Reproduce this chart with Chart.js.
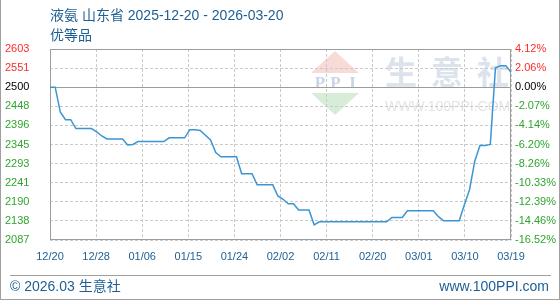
<!DOCTYPE html>
<html>
<head>
<meta charset="utf-8">
<script src="https://cdn.jsdelivr.net/npm/chart.js@4.4.1/dist/chart.umd.min.js"></script>
<style>
  html, body { margin:0; padding:0; background:#fff; }
  #box { position:relative; width:560px; height:300px; overflow:hidden; font-family:"Liberation Sans","Noto Sans CJK SC",sans-serif; color:#1d5f94; }
  #chart { position:absolute; left:0; top:0; }
  .txt { position:absolute; font-size:14px; line-height:20px; white-space:nowrap; }
  .edge { position:absolute; background:#a0a0a0; }
</style>
</head>
<body>
<div id="box">
  <canvas id="chart" width="560" height="300"></canvas>
  <div class="txt" style="left:50px;top:5px">液氨 山东省 2025-12-20 - 2026-03-20</div>
  <div class="txt" style="left:50px;top:25px">优等品</div>
  <div class="edge" style="left:10px;top:275px;width:541px;height:1px"></div>
  <div class="txt" style="left:10px;top:276px">© 2026.03 生意社</div>
  <div class="txt" style="right:11px;top:276px">www.100PPI.com</div>
  <div class="edge" style="left:0;top:0;width:1px;height:300px"></div>
  <div class="edge" style="right:0;top:0;width:1px;height:300px"></div>
  <div class="edge" style="left:0;bottom:0;width:560px;height:1px"></div>
</div>
<script>
// daily price, 2025-12-20 .. 2026-03-19 (one value per day)
const prices = [
  2500, 2500, 2432, 2412, 2412, 2388, 2388, 2388, 2388, 2379,
  2368, 2360, 2360, 2360, 2360, 2344, 2345, 2353, 2353, 2353,
  2353, 2353, 2353, 2363, 2363, 2363, 2363, 2385, 2385, 2383,
  2370, 2357, 2323, 2312, 2312, 2312, 2312, 2266, 2266, 2266,
  2236, 2236, 2236, 2236, 2206, 2197, 2185, 2185, 2168, 2168,
  2168, 2128, 2136, 2136, 2136, 2136, 2136, 2136, 2136, 2136,
  2136, 2136, 2136, 2136, 2136, 2136, 2148, 2148, 2148, 2166,
  2166, 2166, 2166, 2166, 2166, 2150, 2139, 2139, 2139, 2139,
  2182, 2223, 2300, 2342, 2342, 2345, 2552, 2558, 2558, 2540
];
const basePrice = 2500;
const xLabels = ['12/20','12/28','01/06','01/15','01/24','02/02','02/11','02/20','03/01','03/10','03/19'];
const priceLabels = ['2087','2138','2190','2241','2293','2345','2396','2448','2500','2551','2603'];
const pctLabels = ['-16.52%','-14.46%','-12.39%','-10.33%','-8.26%','-6.20%','-4.14%','-2.07%','0.00%','2.06%','4.12%'];
const yMin = 2087, yMax = 2603;

const tickFont = {family:'Liberation Sans', size:11};
function labelColor(i){
  const p = pctLabels[i];
  if (p === '0.00%') return '#000000';
  return p.charAt(0) === '-' ? '#2ea52e' : '#ff2a2a';
}
function evenTicks(scale, n){
  const t = [];
  for (let i = 0; i < n; i++) t.push({value: scale.min + (scale.max - scale.min) * i / (n - 1)});
  scale.ticks = t;
}

const decor = {
  id:'decor',
  beforeDraw(chart){
    const ctx = chart.ctx;
    ctx.save();
    // watermark logo
    ctx.fillStyle = '#f8dbd6';
    ctx.beginPath(); ctx.moveTo(335,51); ctx.lineTo(311,73); ctx.lineTo(359,73); ctx.closePath(); ctx.fill();
    ctx.fillStyle = '#d7edd7';
    ctx.beginPath(); ctx.moveTo(311,93); ctx.lineTo(359,93); ctx.lineTo(335,115); ctx.closePath(); ctx.fill();
    ctx.fillStyle = '#c9d4e6';
    ctx.font = 'bold 17px "Liberation Serif"';
    ctx.textAlign = 'center'; ctx.textBaseline = 'alphabetic';
    ctx.fillText('P',320,88); ctx.fillText('P',335.5,88); ctx.fillText('I',352.5,88);
    ctx.fillStyle = '#dde3ed';
    ctx.font = 'bold 32px "Noto Sans CJK SC"';
    ctx.textBaseline = 'middle';
    ctx.fillText('生',401,72); ctx.fillText('意',447,72); ctx.fillText('社',493,72);
    ctx.fillStyle = '#e4e4e4';
    ctx.font = '14px "Liberation Sans"';
    ctx.textAlign = 'left'; ctx.textBaseline = 'alphabetic';
    ctx.fillText('WWW.100PPI.COM',385,110.5);
    ctx.restore();
  },
  beforeDatasetsDraw(chart){
    const {ctx, chartArea:a, scales} = chart;
    ctx.save();
    ctx.strokeStyle = '#9c9c9c';
    ctx.lineWidth = 1;
    ctx.strokeRect(a.left + 0.5, a.top + 0.5, a.right - a.left - 1, a.bottom - a.top - 1);
    const y0 = Math.round(scales.y.getPixelForValue(basePrice)) + 0.5;
    ctx.beginPath(); ctx.moveTo(a.left, y0); ctx.lineTo(a.right, y0); ctx.stroke();
    ctx.restore();
  }
};

new Chart(document.getElementById('chart'), {
  type:'line',
  data:{
    datasets:[{
      data: prices.map((v, i) => ({x:i, y:v})),
      borderColor:'#3b95d3',
      borderWidth:1.5,
      pointRadius:0,
      tension:0,
      fill:false
    }]
  },
  options:{
    responsive:false,
    animation:false,
    events:[],
    layout:{padding:{left:5, right:0, top:49, bottom:0}},
    plugins:{legend:{display:false}, tooltip:{enabled:false}},
    scales:{
      x:{
        type:'linear', min:0, max:prices.length - 1,
        afterBuildTicks: s => evenTicks(s, xLabels.length),
        afterFit: s => { s.height = 60; },
        grid:{color:'#cacaca', drawTicks:false},
        border:{display:false, dash:[3,2]},
        ticks:{font:tickFont, color:'#1d5f94', padding:10, maxRotation:0, autoSkip:false,
          callback:(v, i) => xLabels[i]}
      },
      y:{
        type:'linear', position:'left', min:yMin, max:yMax,
        afterBuildTicks: s => evenTicks(s, priceLabels.length),
        afterFit: s => { s.width = 45; },
        grid:{color: c => c.index === 8 ? 'rgba(0,0,0,0)' : '#cacaca', drawTicks:false},
        border:{display:false, dash:[3,2]},
        ticks:{font:tickFont, crossAlign:'far', padding:0, autoSkip:false,
          color: c => labelColor(c.index),
          callback:(v, i) => priceLabels[i]}
      },
      y2:{
        type:'linear', position:'right', min:yMin, max:yMax,
        afterBuildTicks: s => evenTicks(s, pctLabels.length),
        afterFit: s => { s.width = 49; },
        grid:{display:false, drawTicks:false},
        border:{display:false},
        ticks:{font:tickFont, padding:4, autoSkip:false,
          color: c => labelColor(c.index),
          callback:(v, i) => pctLabels[i]}
      }
    }
  },
  plugins:[decor]
});
</script>
</body>
</html>
